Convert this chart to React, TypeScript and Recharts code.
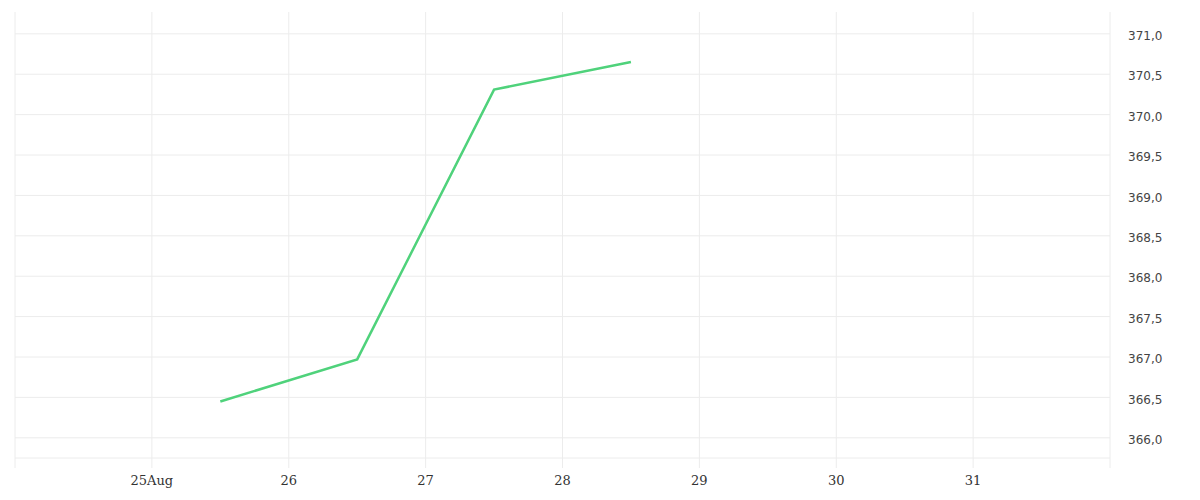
import {
  CartesianGrid,
  LineChart,
  Line,
  ReferenceLine,
  XAxis,
  YAxis,
} from 'recharts';

// days of August (noon of each day)
const days = [25.5, 26.5, 27.5, 28.5];
const prices = [366.45, 366.97, 370.31, 370.65];

const xTicks = [24, 25, 26, 27, 28, 29, 30, 31, 32];
const xTickLabels = ['', '25Aug', '26', '27', '28', '29', '30', '31', ''];
const yTicks = [366, 366.5, 367, 367.5, 368, 368.5, 369, 369.5, 370, 370.5, 371];
const yGridLines = [365.75, ...yTicks];

const data = days.map((d, i) => ({ day: d, price: prices[i] }));

const gridColor = '#ececec';

function App() {
  return (
    <div style={{ position: 'absolute', left: 0, top: 0 }}>
      <LineChart
        width={1200}
        height={500}
        data={data}
        margin={{ top: 12, right: 0, left: 15, bottom: 0 }}
      >
        <CartesianGrid stroke={gridColor} strokeWidth={1} horizontal={false} />
        {yGridLines.map((v) => (
          <ReferenceLine key={v} y={v} stroke={gridColor} />
        ))}
        <XAxis
          dataKey='day'
          type='number'
          domain={[24, 32]}
          ticks={xTicks}
          tickFormatter={(v: number) => xTickLabels[xTicks.indexOf(v)] ?? ''}
          axisLine={false}
          tickLine={{ stroke: gridColor }}
          tickSize={10}
          tickMargin={8}
          height={42}
          interval={0}
          tick={{ fill: '#333', fontSize: 13, fontFamily: 'DejaVu Serif' }}
        />
        <YAxis
          orientation='right'
          type='number'
          domain={[365.75, 371.27]}
          ticks={yTicks}
          allowDataOverflow
          tickFormatter={(v: number) => v.toFixed(1).replace('.', ',')}
          axisLine={false}
          tickLine={false}
          tickSize={0}
          tickMargin={18}
          width={90}
          tick={{ fill: '#444', fontSize: 12, fontFamily: 'DejaVu Sans', dy: 2 }}
        />
        <Line
          type='linear'
          dataKey='price'
          stroke='#4fd27b'
          strokeWidth={2.5}
          dot={false}
          isAnimationActive={false}
        />
      </LineChart>
    </div>
  );
}

export default App;
